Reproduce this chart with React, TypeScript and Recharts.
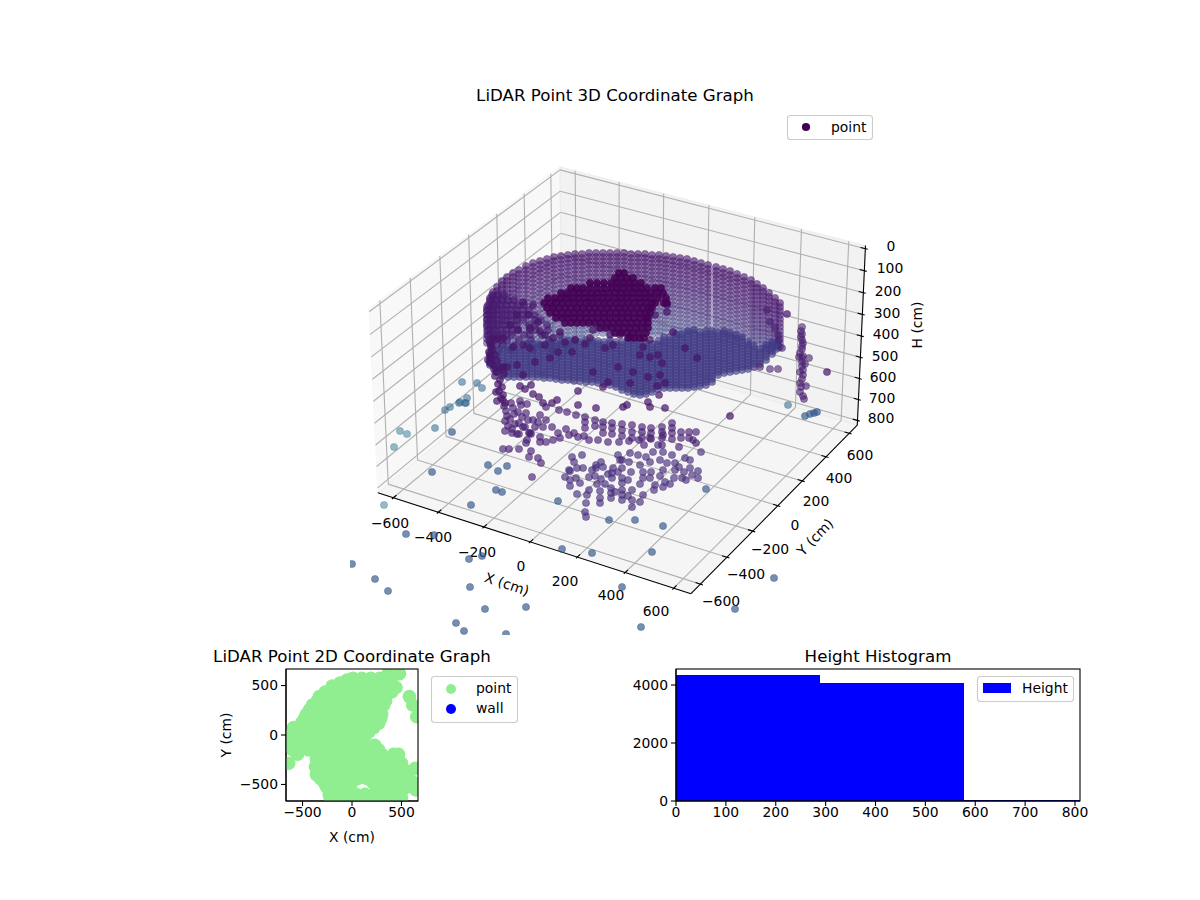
import React from "react";
import { ScatterChart, Scatter, XAxis, YAxis, BarChart, Bar, Customized } from "recharts";

// ---------- axis values ----------
const xyTicks3d = [-600, -400, -200, 0, 200, 400, 600];
const hTicks3d = [0, 100, 200, 300, 400, 500, 600, 700, 800];
const xLim = [-670, 670];
const yLim = [-670, 670];
const hLim = [823, -14];
const ticks2d = [-500, 0, 500];
const histXTicks = [0, 100, 200, 300, 400, 500, 600, 700, 800];
const histYTicks = [0, 2000, 4000];

// ---------- histogram ----------
const histBinCenter = [144, 432, 720];
const histCount = [4345, 4069, 40];

// ---------- 3D scene, values read in the drawing plane of the projected cube ----------
// Back wall of the scan: one entry per scan column, rings read as drops below the rim.
const wallColumnU = [487,490,493,497,502,507,513,519,526,533,540,547,554,561,568,575,582,589,596,603,610,617,624,631,638,645,652,659,666,673,680,687,694,701,708,716,723,730,737,744,751,757,763,769,775,780];
const wallTopV = [307,298,292,287,281,277,273,270,266,263,261,259,257,256,255,254,254,253,253,253,253,253,253,254,254,254,255,255,256,257,258,259,261,263,265,267,269,271,274,277,280,284,288,293,298,303];
const wallBottomV = [345,345,345,345,345,345,345,345,345,345,345,345,345,345,340,340,340,335,335,335,335,335,335,335,335,335,335,335,335,335,335,332,332,330,330,332,333,335,338,340,344,347,349,350,350,348];
const wallDrops = [0,4,8,12,16,20,24,28,32,36,40,44,48,52,56,60,64,68,72,76,80,84,88];
const wallShades = ["#4a1a70","#4a1a70","#4a1a70","#4a1d72","#4a1d72","#491f74","#491f74","#482376","#482878","#482878","#472a7a","#472d7b","#46307e","#463480","#453781","#443983","#433e85","#423f85","#414287","#404688","#404688","#3f4889","#3f4889"];
const wallOpacities = [0.62,0.6,0.58,0.56,0.55,0.54,0.53,0.52,0.51,0.5,0.49,0.48,0.47,0.46,0.45,0.44,0.43,0.42,0.42,0.42,0.42,0.42,0.42];

// Darker left end of the wall: rows of [v, u...]
const wallLeftRows = [
  [295,492,498,504],
  [300,490,496,502,508,514],
  [305,488,494,500,506,512,518,524],
  [310,487,493,499,505,511,517,523,529],
  [315,487,493,499,505,511,517,523,529,535],
  [320,487,493,499,505,511,517,523,535,541],
  [325,487,493,499,505,511,517,529,535,547],
  [330,488,494,500,506,512,518,530,536,548],
  [335,488,494,500,506,512,524,530,542,560],
  [340,489,495,501,507,519,531,549,575],
  [345,491,497,503,515,527,541,566],
  [350,493,499,511,533,552],
];

// Floor of the scan: one entry per arc column, arcs read as rises above the lower edge.
const floorColumnU = [490,496,502,508,514,520,526,532,538,544,550,556,562,568,574,580,586,592,598,604,610,616,622,628,634,640,646,652,658,664,670,676,682,688,694,700,706,712,718,724,730,736,742,748,754,760,766,772,778];
const floorBottomV = [365,372,376,377,377,377,377,377,377,378,378,379,380,380,381,381,382,382,383,384,385,387,390,392,394,395,394,392,389,388,388,388,388,388,387,386,385,382,375,373,372,371,370,369,367,364,360,354,348];
const floorTopV = [352,350,348,346,345,345,344,344,343,343,342,342,341,341,340,340,340,340,340,340,340,340,340,340,340,340,343,342,340,337,335,333,332,331,330,330,330,330,331,331,332,333,336,340,345,349,345,340,340];
const floorRises = [0,3,6,9,12,15,18,21,24,27,30,33,36,39,42,45,48,51,54,57,60];

// Dense dark mass near the top of the scan: rows of [v, u...]
const darkRows = [
  [273,619,624],
  [278,615,621,627,633],
  [283,590,597,604,611,617,623,629,635,641],
  [288,571,577,583,590,597,604,611,617,623,629,635,641,647,655,661],
  [293,561,567,573,579,585,591,597,603,609,615,621,627,633,639,645,651,657,663],
  [298,548,555,561,567,573,579,585,591,597,603,609,615,621,627,633,639,645,651,658,666],
  [303,544,550,556,562,568,574,580,586,592,598,604,610,616,622,628,634,640,646,652,655,664,667],
  [308,547,553,559,565,571,577,583,589,595,601,607,613,619,625,631,637,643,649,652],
  [313,550,556,562,568,574,580,586,592,598,604,610,616,622,628,634,640,646,650],
  [318,556,562,568,574,580,586,592,598,604,610,616,622,628,634,640,646,648],
  [323,565,571,577,583,589,595,601,607,613,619,625,631,637,643,648],
  [328,600,606,612,618,624,630,636,642,648],
  [333,615,621,627,633,639,646],
  [338,628,634,640,644],
];

const scatterNearU = [523,533,517,528,538,510,518,530,540,553,503,498,493,513,523,530,558,572,585,593,605,613,620,630,643,650,655,667,667,640,650,658,662,618,593,633,648,660,608,630,657,665,685,697,673,550,535,517,507,523,503,492,490,488,493,497,500,502,503,505,497,496,520,531,525,533,539,543,552,557,578,578,596,603,623,627,659,648,650,665,787,827,730,545,560,575,545,565,590,610,490,491,489,491,490,494,495,498,499,501,495,497,500,504];
const scatterNearV = [302,305,315,315,322,325,330,328,331,338,338,338,338,347,345,348,352,352,344,330,348,345,335,337,347,340,315,305,312,355,357,355,363,367,372,372,377,375,382,383,386,383,348,358,332,358,362,365,367,375,367,350,355,360,365,372,380,387,395,403,401,392,386,385,389,394,397,403,403,400,391,405,408,387,407,405,395,402,407,408,314,372,416,335,332,340,345,342,338,335,343,347,352,358,363,369,376,384,391,398,355,361,368,374];

const sidePostU = [802,801,802,801,802,803,802,802,800,803,802,809,799,802,805,802,803,800,803,802,800,801,806,800,803,804,782,779,778,775,770,767,770,778,760];
const sidePostV = [327,331,334,337,340,343,346,349,353,356,358,358,357,362,364,366,370,372,375,379,383,387,386,392,396,399,348,340,335,328,322,310,369,369,367];

const lowerBandU = [503,511,520,504,513,521,506,514,518,507,510,522,505,515,519,508,512,523,526,528,525,530,527,517,529,538,543,540,546,526,527,546,559,567,576,585,585,595,603,603,612,612,622,622,632,632,642,642,651,651,662,662,672,672,672,681,689,696,540,553,560,569,574,589,598,608,619,629,639,650,663,503,509,519,531,529,538,541,532,693,696,644,662,679,585,595,603,612,622,632,642,651,662,672,681,689,512,505,519,533,535,531,540,546,552,558,566,578,584];
const lowerBandV = [400,403,401,406,408,405,411,414,412,416,419,417,421,424,423,426,429,427,413,420,427,433,440,434,433,422,427,437,442,443,404,407,410,412,415,417,422,420,422,427,423,428,424,430,425,432,427,432,428,433,427,432,423,428,433,432,432,432,442,440,438,435,433,440,440,442,442,441,440,438,435,449,449,449,451,457,458,463,477,440,443,445,445,447,428,426,433,434,436,438,438,439,438,439,438,438,433,431,434,420,427,434,415,420,427,433,429,437,436];

const lowerGridU = [572,574,582,569,570,583,565,570,576,589,595,601,570,596,601,603,596,577,613,612,612,622,622,622,622,631,630,638,646,653,663,672,658,643,651,663,675,679,674,675,684,690,698,698,686,665,663,655,654,643,643,632,632,632,622,622,622,611,611,611,600,600,600,589,587,586,585,586,577,685,667,629,620,701,608,618,628,640,650,660,670,682,692,605,615,628,640,597,580,592,618,640,650,660,690];
const lowerGridV = [457,462,455,470,471,468,477,480,478,477,476,479,486,465,462,467,468,468,468,473,478,460,468,478,483,472,453,455,457,452,452,455,445,472,472,470,463,467,478,470,472,468,471,478,480,482,487,485,490,478,495,490,500,507,490,495,500,488,493,498,491,498,503,490,495,503,512,517,494,458,463,462,460,452,474,472,480,484,478,476,484,478,475,484,492,496,502,484,483,470,455,465,462,460,460];

const looseBlueU = [406,434,352,375,388,469,482,470,485,526,562,592,652,622,641,774,735,432,471,496,502,558,609,635,663,706,488,498,507,452,805,810,814,817,456,464,506];
const looseBlueV = [534,535,564,579,591,559,556,587,609,607,549,553,552,587,627,578,609,472,505,490,492,501,520,520,526,489,465,471,466,432,416,414,413,412,623,631,634];

const looseTealU = [462,477,482,445,450,460,467,459,466,465,788,435];
const looseTealV = [382,383,388,410,407,402,398,403,403,403,405,428];
const paleTealU = [384,394,400,407];
const paleTealV = [505,447,431,434];

// ---------- 2D panel: rows of [y, x...] in cm ----------
const pointRows2d = [
  [620,365,480],
  [572,100,10,190,280,350],
  [555,-50],
  [525,-120,-30,60,150,240,320,400],
  [495,-200],
  [480,-110,-20,70,160,250,340,445],
  [435,-270,-180,-90,0,90,180,270,360,400],
  [388,-330,-210,-120,-30,60,150,240,330,580],
  [345,-350,-260,-170,-80,10,100,190,280,340],
  [303,-400,-290,-200,-110,-20,70,160,250,320,613],
  [255,-430,-340,-250,-160,-70,20,110,200,290],
  [210,-460,-370,-280,-190,-100,-10,80,170,260,300],
  [185,654],
  [165,-480,-390,-300,-210,-120,-30,60,150,240,290],
  [120,-510,-420,-330,-240,-150,-60,30,120,210,270],
  [75,-590,-500,-410,-320,-230,-140,-50,40,130,220],
  [30,-600,-540,-450,-360,-270,-180,-90,0,90,170],
  [-15,-600,-510,-420,-330,-240,-150,-60,30,130],
  [-60,-600,-540,-450,-360,-270,-180,-90,0,110],
  [-105,-600,-510,-420,-330,-240,-150,-60,30,120,230],
  [-150,-600,-540,-440,-350,-260,-170,-80,10,100,190,270],
  [-195,-550,-340,-240,-150,-60,30,120,210,300,420,470],
  [-240,-360,-280,-190,-100,0,100,190,280,370,430],
  [-286,-640,-340,-250,-170,-70,70,160,250,340,430,500],
  [-320,-370,-290,-210,-120,0,60,150,240,330,420,490],
  [-337,640],
  [-360,-340,-260,-130,110,200,290,380,470,540],
  [-400,-360,-280,-200,-60,30,120,210,300,390,480,560],
  [-440,-320,-240,-150,-30,60,150,240,330,420,510,580],
  [-480,-280,-200,-100,0,210,270,360,450,540,620],
  [-520,-260,-170,-80,300,390,480,570],
  [-556,647,-220,-130,-40,250,340,430,510],
  [-600,-230,-140,-50,40,130,220,310,400,490],
  [-640,-220,-130,-40,50,140,230,320,410,500],
];
const wallPoints2d: { x: number; y: number }[] = [];

// ---------- tables for the library ----------
const zip = (us: number[], vs: number[]) => us.map((u, i) => ({ u, v: vs[i] }));
const wallRings = wallDrops.map((d) =>
  wallColumnU.flatMap((u, i) => (wallTopV[i] + d <= wallBottomV[i] ? [{ u, v: wallTopV[i] + d }] : []))
);
const floorArcs = floorRises.map((r) =>
  floorColumnU.flatMap((u, i) => (floorBottomV[i] - r >= floorTopV[i] ? [{ u, v: floorBottomV[i] - r }] : []))
);
const darkMass = darkRows.flatMap(([v, ...us]) => us.map((u) => ({ u, v })));
const wallLeft = wallLeftRows.flatMap(([v, ...us]) => us.map((u) => ({ u, v })));
const points2d = pointRows2d.flatMap(([y, ...xs]) => xs.map((x) => ({ x, y })));
const histData = histBinCenter.map((center, i) => ({ center, count: histCount[i] }));

// ---------- projection of the 3D cube onto the drawing plane ----------
const BOX = [1.19, 1.19, 0.7];
const CAM = { k: 3000, u0: 622, v0: 369 };
const project = (x: number, y: number, h: number): [number, number] => {
  const a = ((x - xLim[0]) / (xLim[1] - xLim[0]) - 0.5) * BOX[0];
  const b = ((y - yLim[0]) / (yLim[1] - yLim[0]) - 0.5) * BOX[1];
  const c = ((h - hLim[0]) / (hLim[1] - hLim[0]) - 0.5) * BOX[2];
  const xv = 0.866 * a + 0.5 * b;
  const yv = -0.25 * a + 0.433 * b + 0.866 * c;
  const zv = 10 - (0.433 * a - 0.75 * b + 0.5 * c);
  return [CAM.u0 + (CAM.k * xv) / zv, CAM.v0 - (CAM.k * yv) / zv];
};

const FONT = "'DejaVu Sans'";
const fmt = (n: number) => String(n).replace("-", "\u2212");
// Filled disc with a thin same-coloured edge
const ring = (fill: string, op: number) => (p: any) => (
  <circle cx={p.cx} cy={p.cy} r={3.6} fill={fill} fillOpacity={op} stroke={fill} strokeOpacity={op * 0.6} strokeWidth={1} />
);
const dot = (r: number, fill: string) => (p: any) => <circle cx={p.cx} cy={p.cy} r={r} fill={fill} />;
const Label = ({ x, y, size = 13.9, rotate = 0, anchor = "middle", children }: any) => (
  <text
    x={x}
    y={y}
    fontFamily={FONT}
    fontSize={size}
    fill="#000"
    textAnchor={anchor}
    dominantBaseline="central"
    transform={rotate ? `rotate(${rotate} ${x} ${y})` : undefined}
  >
    {children}
  </text>
);
const Poly = ({ pts, fill }: { pts: [number, number][]; fill: string }) => (
  <polygon points={pts.map((p) => p.join(",")).join(" ")} fill={fill} stroke={fill} strokeWidth={1} />
);
const Seg = ({ a, b, stroke = "#b0b0b0", w = 1.1 }: any) => (
  <line x1={a[0]} y1={a[1]} x2={b[0]} y2={b[1]} stroke={stroke} strokeWidth={w} />
);

// Label places in the page
const xTickLabelU = [390, 433, 477, 521, 565, 611, 656];
const xTickLabelV = [523, 537, 552, 566, 581, 595, 611];
const yTickLabelU = [721, 746, 770, 795, 816, 839, 860];
const yTickLabelV = [601, 574, 549, 525, 501, 478, 455];
const hTickLabelU = [891, 890, 888, 887, 886, 885, 883, 882, 881];
const hTickLabelV = [246, 268, 291, 313, 334, 356, 377, 398, 418];

const Scene = () => {
  const [x0, x1] = xLim;
  const [y0, y1] = yLim;
  const [hf, ht] = hLim;
  return (
    <g>
      <Poly pts={[project(x0, y0, hf), project(x0, y1, hf), project(x0, y1, ht), project(x0, y0, ht)]} fill="rgba(242,242,242,0.5)" />
      <Poly pts={[project(x0, y1, hf), project(x1, y1, hf), project(x1, y1, ht), project(x0, y1, ht)]} fill="rgba(230,230,230,0.5)" />
      <Poly pts={[project(x0, y0, hf), project(x1, y0, hf), project(x1, y1, hf), project(x0, y1, hf)]} fill="rgba(236,236,236,0.5)" />
      {xyTicks3d.map((t) => (
        <g key={`gx${t}`}>
          <Seg a={project(t, y0, hf)} b={project(t, y1, hf)} />
          <Seg a={project(t, y1, hf)} b={project(t, y1, ht)} />
          <Seg a={project(x1, t, hf)} b={project(x0, t, hf)} />
          <Seg a={project(x0, t, hf)} b={project(x0, t, ht)} />
        </g>
      ))}
      {hTicks3d.map((t) => (
        <g key={`gh${t}`}>
          <Seg a={project(x0, y0, t)} b={project(x0, y1, t)} />
          <Seg a={project(x0, y1, t)} b={project(x1, y1, t)} />
        </g>
      ))}
      <Seg a={project(x0, y0, hf)} b={project(x1, y0, hf)} stroke="#000" />
      <Seg a={project(x1, y0, hf)} b={project(x1, y1, hf)} stroke="#000" />
      <Seg a={project(x1, y1, hf)} b={project(x1, y1, ht)} stroke="#000" />
      {xyTicks3d.map((t) => (
        <g key={`tk${t}`}>
          <Seg a={project(t, y0 + 20, hf)} b={project(t, y0 - 10, hf)} stroke="#000" />
          <Seg a={project(x1 - 20, t, hf)} b={project(x1 + 10, t, hf)} stroke="#000" />
        </g>
      ))}
      {hTicks3d.map((t) => (
        <Seg key={`th${t}`} a={project(x1 - 20, y1, t)} b={project(x1 + 10, y1, t)} stroke="#000" />
      ))}
      {xyTicks3d.map((t, i) => (
        <Label key={`lx${t}`} x={xTickLabelU[i]} y={xTickLabelV[i]}>{fmt(t)}</Label>
      ))}
      {xyTicks3d.map((t, i) => (
        <Label key={`ly${t}`} x={yTickLabelU[i]} y={yTickLabelV[i]}>{fmt(t)}</Label>
      ))}
      {hTicks3d.map((t, i) => (
        <Label key={`lh${t}`} x={hTickLabelU[i]} y={hTickLabelV[i]}>{fmt(t)}</Label>
      ))}
      <Label x={507} y={584} rotate={18.5}>X (cm)</Label>
      <Label x={815} y={537} rotate={-46}>Y (cm)</Label>
      <Label x={917} y={325} rotate={-90}>H (cm)</Label>
      <Label x={615} y={95} size={16.67}>LiDAR Point 3D Coordinate Graph</Label>
      <Label x={352} y={656} size={16.67}>LiDAR Point 2D Coordinate Graph</Label>
      <Label x={878} y={656} size={16.67}>Height Histogram</Label>
    </g>
  );
};

const Overlay = () => (
  <g>
    <rect x={286} y={669} width={132} height={132} fill="none" stroke="#000" strokeWidth={1.1} />
    <rect x={676} y={669} width={404} height={132} fill="none" stroke="#000" strokeWidth={1.1} />
    <rect x={787.5} y={115.5} width={85} height={24} rx={3} fill="#fff" fillOpacity={0.8} stroke="#ccc" strokeWidth={1.1} />
    <circle cx={806} cy={127} r={4.1} fill="#440154" />
    <Label x={831} y={127} anchor="start">point</Label>
    <rect x={431.5} y={676.5} width={86} height={46} rx={3} fill="#fff" fillOpacity={0.8} stroke="#ccc" strokeWidth={1.1} />
    <circle cx={451} cy={689} r={5} fill="#90ee90" />
    <circle cx={451} cy={709} r={5} fill="#0000ff" />
    <Label x={476} y={688} anchor="start">point</Label>
    <Label x={476} y={708} anchor="start">wall</Label>
    <rect x={977.5} y={676.5} width={96} height={25} rx={3} fill="#fff" fillOpacity={0.8} stroke="#ccc" strokeWidth={1.1} />
    <rect x={983} y={683} width={28} height={10} fill="#0000ff" />
    <Label x={1022} y={688} anchor="start">Height</Label>
    <Label x={352} y={837}>X (cm)</Label>
    <Label x={226} y={735} rotate={-90}>Y (cm)</Label>
  </g>
);

const Plane = ({ children, component }: any) => (
  <ScatterChart width={1200} height={900} margin={{ top: 0, right: 0, bottom: 0, left: 0 }}>
    <XAxis type="number" dataKey="u" domain={[0, 1200]} hide />
    <YAxis type="number" dataKey="v" domain={[0, 900]} reversed hide />
    <Scatter data={[]} isAnimationActive={false} />
    <Customized component={component} />
    {children}
  </ScatterChart>
);

const layer: React.CSSProperties = { position: "absolute", left: 0, top: 0 };
const tickStyle = { fontFamily: FONT, fontSize: 13.9, fill: "#000" };
const tickLine = { stroke: "#000", strokeWidth: 1.1 };

const HistBar = (p: any) => (
  <rect x={p.x + p.width / 2 - 71.85} y={p.y} width={144.2} height={p.height} fill="#0000ff" shapeRendering="crispEdges" />
);

export default function App() {
  return (
    <div style={{ position: "absolute", left: 0, top: 0, width: 1200, height: 900, background: "#fff", overflow: "hidden" }}>
      <div style={layer}>
        <Plane component={Scene} />
      </div>

      <div style={{ position: "absolute", left: 350, top: 108 }}>
        <ScatterChart width={530} height={527} margin={{ top: 0, right: 0, bottom: 0, left: 0 }}>
          <XAxis type="number" dataKey="u" domain={[350, 880]} hide />
          <YAxis type="number" dataKey="v" domain={[108, 635]} reversed hide />
          {wallRings.map((r, i) => (
            <Scatter key={`w${i}`} data={r} shape={ring(wallShades[i], wallOpacities[i])} isAnimationActive={false} />
          ))}
          <Scatter data={wallLeft} shape={ring("#461a6e", 0.6)} isAnimationActive={false} />
          {floorArcs.map((arc, i) => (
            <Scatter key={`f${i}`} data={arc} shape={ring("#413a84", 0.65)} isAnimationActive={false} />
          ))}
          <Scatter data={zip(paleTealU, paleTealV)} shape={ring("#2a788e", 0.5)} isAnimationActive={false} />
          <Scatter data={zip(looseTealU, looseTealV)} shape={ring("#31688e", 0.55)} isAnimationActive={false} />
          <Scatter data={zip(looseBlueU, looseBlueV)} shape={ring("#35588c", 0.68)} isAnimationActive={false} />
          <Scatter data={zip(lowerGridU, lowerGridV)} shape={ring("#472d7b", 0.65)} isAnimationActive={false} />
          <Scatter data={zip(lowerBandU, lowerBandV)} shape={ring("#471f73", 0.65)} isAnimationActive={false} />
          <Scatter data={zip(sidePostU, sidePostV)} shape={ring("#481f70", 0.6)} isAnimationActive={false} />
          <Scatter data={zip(scatterNearU, scatterNearV)} shape={ring("#461668", 0.7)} isAnimationActive={false} />
          <Scatter data={darkMass} shape={ring("#440154", 0.88)} isAnimationActive={false} />
        </ScatterChart>
      </div>

      <div style={layer}>
        <ScatterChart width={1200} height={900} margin={{ top: 669, right: 782, bottom: 54, left: 226 }}>
          <XAxis type="number" dataKey="x" domain={[-667, 667]} ticks={ticks2d} allowDataOverflow height={45} tick={tickStyle} tickLine={tickLine} axisLine={tickLine} tickSize={5} tickMargin={1} tickFormatter={fmt} />
          <YAxis type="number" dataKey="y" domain={[-667, 667]} ticks={ticks2d} allowDataOverflow width={60} tick={tickStyle} tickLine={tickLine} axisLine={tickLine} tickSize={5} tickMargin={3} tickFormatter={fmt} />
          <Scatter name="point" data={points2d} shape={dot(6.8, "#90ee90")} isAnimationActive={false} />
          <Scatter name="wall" data={wallPoints2d} shape={dot(6.8, "#0000ff")} isAnimationActive={false} />
        </ScatterChart>
      </div>

      <div style={layer}>
        <BarChart width={1200} height={900} data={histData} margin={{ top: 669, right: 120, bottom: 54, left: 616 }} barCategoryGap={0}>
          <XAxis type="number" dataKey="center" domain={[0, 810]} ticks={histXTicks} allowDataOverflow height={45} tick={tickStyle} tickLine={tickLine} axisLine={tickLine} tickSize={5} tickMargin={1} interval={0} />
          <YAxis type="number" domain={[0, 4552]} ticks={histYTicks} width={60} tick={tickStyle} tickLine={tickLine} axisLine={tickLine} tickSize={5} tickMargin={3} />
          <Bar dataKey="count" name="Height" shape={HistBar} isAnimationActive={false} />
        </BarChart>
      </div>

      <div style={layer}>
        <Plane component={Overlay} />
      </div>
    </div>
  );
}
